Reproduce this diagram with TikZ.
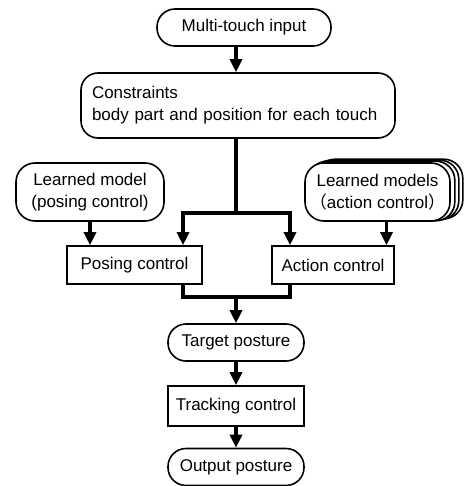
\documentclass[tikz,border=0pt]{standalone}
\usepackage{fontspec}
\setmainfont{Liberation Sans}
\newfontfamily\cjk{Noto Sans CJK JP}
\usetikzlibrary{arrows.meta,backgrounds}
\begin{document}
\begin{tikzpicture}[x=1pt,y=-1pt,
  font=\fontsize{17}{22}\selectfont,
  pill/.style={draw,line width=1.6pt,rounded corners=18pt,minimum height=37pt,inner sep=0pt},
  boxx/.style={draw,line width=1.6pt,minimum height=38pt,inner sep=0pt},
  model/.style={draw,fill=white,line width=1.6pt,rounded corners=19pt,minimum height=58pt,inner sep=0pt,align=center},
  flow/.style={line width=3.2pt,-{Triangle[length=13pt,width=12pt]}},
  link/.style={line width=3.2pt}]
\useasboundingbox (0,0) rectangle (468,486);
\node[pill,minimum width=174pt] (input) at (244,27.5) {Multi-touch input};
\node[draw,line width=1.6pt,rounded corners=17pt,minimum height=65pt,text width=292pt,align=left,inner xsep=11pt,inner ysep=0pt] (cons) at (238,105.5) {Constraints\\body part and position for each touch};
\node[model,minimum width=148pt] (lmpose) at (90,192) {Learned model\\(posing control)};
\node[model,minimum width=145pt] (lmact) at (377.5,192) {Learned models\\{\cjk （}action control{\cjk ）}};
\begin{scope}[on background layer]
\foreach \k in {3,2,1}
  \draw[fill=white,line width=1.6pt,rounded corners=19pt] ([shift={(4*\k,-1*\k)}]lmact.north west) rectangle ([shift={(4*\k,-1*\k)}]lmact.south east);
\end{scope}
\node[boxx,minimum width=135pt] (pose) at (134.5,265) {Posing control};
\node[boxx,minimum width=122pt] (act) at (333,265) {Action control};
\node[pill,minimum width=136pt] (target) at (236,342.5) {Target posture};
\node[boxx,minimum width=136pt,minimum height=40pt] (track) at (236,406) {Tracking control};
\node[pill,minimum width=136pt] (output) at (236,467) {Output posture};
\coordinate (split) at (236,213);
\coordinate (lft) at (183,213);
\coordinate (rgt) at (290,213);
\coordinate (merge) at (236,297);
\draw[flow] (input.south -| split) -- (cons.north -| split);
\draw[link] (cons.south -| split) -- (split);
\draw[flow] (split) -- (lft) -- (lft |- pose.north);
\draw[flow] (split) -- (rgt) -- (rgt |- act.north);
\draw[flow] (lmpose.south) -- (lmpose.south |- pose.north);
\draw[flow] ([xshift=9pt]lmact.south) -- ([xshift=9pt]lmact.south |- act.north);
\draw[link] (lft |- pose.south) -- (lft |- merge) -- (merge);
\draw[link] (rgt |- act.south) -- (rgt |- merge) -- (merge);
\draw[flow] (merge) -- (target.north);
\draw[flow] (target) -- (track);
\draw[flow] (track) -- (output);
\end{tikzpicture}
\end{document}
